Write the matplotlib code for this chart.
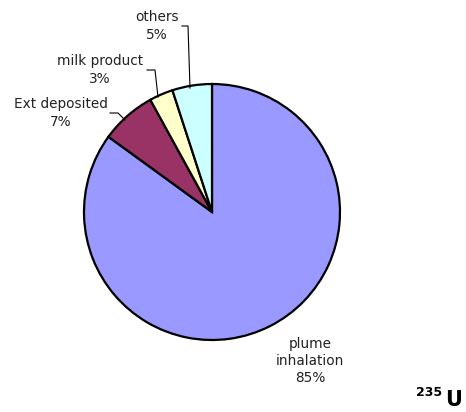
import matplotlib
matplotlib.use('Agg')
import matplotlib.pyplot as plt

labels = ['plume\ninhalation', 'Ext deposited', 'milk product', 'others']
values = [85, 7, 3, 5]
colors = ['#9999FF', '#993366', '#FFFFCC', '#CCFFFF']

fig = plt.figure(figsize=(4.66, 4.12), dpi=100)
W, H = 466, 412
cx, cy, r = 212, 212, 128
ax = fig.add_axes([(cx - r) / W, (H - cy - r) / H, 2 * r / W, 2 * r / H])

ax.pie(values, colors=colors, startangle=90, counterclock=False, radius=1,
       wedgeprops=dict(edgecolor='black', linewidth=1.6))
ax.set_xlim(-1, 1)
ax.set_ylim(-1, 1)
ax.set_aspect('equal')
ax.axis('off')

# pixel -> data helper
def px(x, y):
    return ((x - cx) / r, (cy - y) / r)

fs = 9.8
txt = dict(ha='center', va='center', fontsize=fs, color='#222222', linespacing=1.3, clip_on=False)

# label positions (pixels) and leader lines
pos = {0: (310, 361), 1: (61, 113), 2: (100, 70), 3: (157, 26)}
leaders = {
    1: [(110, 113), (118, 113), (125, 120)],
    2: [(147, 70), (155, 70), (158, 97)],
    3: [(182, 26), (188, 26), (190, 88)],
}
for i, (lab, v) in enumerate(zip(labels, values)):
    x, y = px(*pos[i])
    ax.text(x, y, f'{lab}\n{v}%', **txt)
    if i in leaders:
        pts = [px(*p) for p in leaders[i]]
        ax.plot([p[0] for p in pts], [p[1] for p in pts], color='black', lw=0.8, clip_on=False)

fig.text(454 / W, 1 - 400 / H, 'U', fontsize=15, fontweight='bold', ha='center', va='center')
fig.text(429 / W, 1 - 392 / H, '235', fontsize=9, fontweight='bold', ha='center', va='center')

fig.savefig('out.png', dpi=100)
